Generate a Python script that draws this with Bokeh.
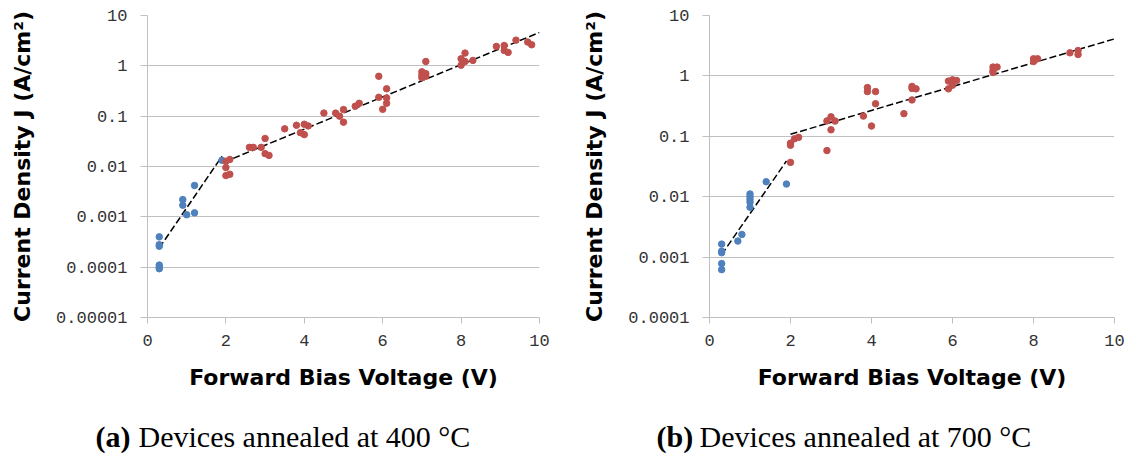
from bokeh.plotting import figure
from bokeh.models import FixedTicker, CustomJSTickFormatter, Range1d
from bokeh.core.properties import value
from bokeh.layouts import row, column
from bokeh.embed import file_html
from bokeh.resources import INLINE

# ---------------- data ----------------
x_ticks = [0, 2, 4, 6, 8, 10]
y_ticks_a = [1e-5, 1e-4, 1e-3, 1e-2, 1e-1, 1, 10]
y_labels_a = ["0.00001", "0.0001", "0.001", "0.01", "0.1", "1", "10"]
y_ticks_b = [1e-4, 1e-3, 1e-2, 1e-1, 1, 10]
y_labels_b = ["0.0001", "0.001", "0.01", "0.1", "1", "10"]

# (a) annealed at 400 C
a_blue_v = [0.3, 0.3, 0.3, 0.3, 0.3, 0.3, 0.9, 0.9, 1.0, 1.2, 1.2, 1.9]
a_blue_j = [0.0004, 0.00028, 0.00026, 0.00011, 0.0001, 0.000093,
            0.0022, 0.0017, 0.0011, 0.0042, 0.0012, 0.0133]
a_red_v = [2.0, 2.1, 2.0, 2.0, 2.1, 2.6, 2.7, 2.9, 3.0, 3.0, 3.1,
           3.5, 3.8, 3.9, 4.0, 4.0, 4.1, 4.5, 4.8, 4.9, 5.0, 5.0, 5.3, 5.4,
           5.9, 5.9, 6.0, 6.1, 6.1, 6.1, 7.0, 7.0, 7.1, 7.1, 7.1, 7.0,
           8.0, 8.0, 8.1, 8.1, 8.3, 8.9, 9.1, 9.1, 9.2, 9.4, 9.7, 9.8]
a_red_j = [0.0127, 0.0138, 0.0095, 0.0066, 0.0070, 0.024, 0.024, 0.024, 0.036, 0.018, 0.0166,
           0.056, 0.066, 0.047, 0.043, 0.069, 0.064, 0.115, 0.115, 0.10, 0.135, 0.076, 0.158, 0.18,
           0.62, 0.237, 0.137, 0.35, 0.23, 0.18, 0.76, 0.58, 1.22, 0.70, 0.62, 0.66,
           1.38, 1.03, 1.79, 1.22, 1.28, 2.43, 2.54, 2.02, 1.85, 3.24, 2.96, 2.62]
a_fit1_v = [0.3, 1.9]
a_fit1_j = [0.00024, 0.016]
a_fit2_v = [1.95, 10.0]
a_fit2_j = [0.0122, 4.6]

# (b) annealed at 700 C
b_blue_v = [0.3, 0.3, 0.3, 0.3, 0.3, 0.7, 0.8, 1.0, 1.0, 1.0, 1.0, 1.0, 1.4, 1.9]
b_blue_j = [0.00164, 0.00125, 0.00118, 0.00078, 0.00062, 0.00184, 0.00237,
            0.0111, 0.0100, 0.0090, 0.0081, 0.0067, 0.0177, 0.0162]
b_red_v = [2.0, 2.0, 2.0, 2.1, 2.2, 2.9, 2.9, 3.0, 3.0, 3.1,
           3.8, 3.9, 3.9, 4.0, 4.1, 4.1, 4.8, 5.0, 5.0, 5.0, 5.1,
           5.9, 5.9, 6.0, 6.0, 6.1, 7.0, 7.0, 7.0, 7.1, 8.0, 8.0, 8.1, 8.9, 9.1, 9.1]
b_red_j = [0.037, 0.077, 0.071, 0.091, 0.096, 0.058, 0.18, 0.21, 0.128, 0.179,
           0.216, 0.64, 0.55, 0.148, 0.55, 0.346, 0.237, 0.67, 0.62, 0.40, 0.61,
           0.82, 0.61, 0.86, 0.70, 0.84, 1.40, 1.23, 1.14, 1.40, 1.92, 1.73, 1.92, 2.41, 2.63, 2.26]
b_fit1_v = [0.3, 1.9]
b_fit1_j = [0.0011, 0.039]
b_fit2_v = [2.0, 10.0]
b_fit2_j = [0.108, 4.1]

x_title = "Forward Bias Voltage (V)"
y_title = "Current Density J (A/cm\u00b2)"
cap_tags = ["(a)", "(b)"]
cap_texts = ["Devices annealed at 400 \u00b0C", "Devices annealed at 700 \u00b0C"]

BLUE = "#4f81bd"
RED = "#c0504d"
GRID = "#c0c0c0"
TICKFONT = "Liberation Mono"
TITLEFONT = "DejaVu Sans"
CAPFONT = "Liberation Serif"


def panel(width, ml, mr, ymin, yticks, ylabels, blue_v, blue_j, red_v, red_j,
          f1v, f1j, f2v, f2j):
    p = figure(width=width, height=406, y_axis_type="log",
               x_range=Range1d(0, 10), y_range=Range1d(ymin, 10),
               output_backend="svg", toolbar_location=None,
               min_border_left=ml, min_border_right=mr,
               min_border_top=15, min_border_bottom=89)
    p.outline_line_color = None
    p.background_fill_color = "white"
    p.border_fill_color = "white"
    p.xgrid.visible = False
    p.ygrid.grid_line_color = GRID
    p.ygrid.grid_line_width = 1

    p.xaxis.ticker = FixedTicker(ticks=x_ticks)
    p.yaxis.ticker = FixedTicker(ticks=yticks)
    p.yaxis.formatter = CustomJSTickFormatter(args=dict(vals=yticks, labs=ylabels), code="""
        let best = 0;
        for (let i = 0; i < vals.length; i++) {
            if (Math.abs(Math.log10(vals[i]) - Math.log10(tick)) <
                Math.abs(Math.log10(vals[best]) - Math.log10(tick))) { best = i; }
        }
        return labs[best];
    """)
    for ax in (p.xaxis[0], p.yaxis[0]):
        ax.axis_line_color = GRID
        ax.major_tick_line_color = GRID
        ax.minor_tick_line_color = None
        ax.major_tick_in = 0
        ax.major_label_text_font = TICKFONT
        ax.major_label_text_font_size = "17px"
        ax.major_label_text_color = "#333333"
        ax.axis_label_text_font = TITLEFONT
        ax.axis_label_text_font_style = "bold"
        ax.axis_label_text_font_size = "22px"
        ax.axis_label_text_color = "black"
    p.xaxis.major_tick_out = 6
    p.yaxis.major_tick_out = 7
    p.xaxis.major_label_standoff = 11
    p.yaxis.major_label_standoff = 13
    p.xaxis.axis_label = x_title
    p.yaxis.axis_label = y_title
    p.xaxis.axis_label_standoff = 16
    p.yaxis.axis_label_standoff = 18

    p.line(f1v, f1j, line_color="black", line_width=1.5, line_dash="7 3")
    p.line(f2v, f2j, line_color="black", line_width=1.5, line_dash="7 3")
    p.scatter(blue_v, blue_j, size=6.5, fill_color=BLUE, line_color=BLUE)
    p.scatter(red_v, red_j, size=6.5, fill_color=RED, line_color=RED)
    return p


pa = panel(565, 147, 26, 1e-5, y_ticks_a, y_labels_a, a_blue_v, a_blue_j, a_red_v, a_red_j,
           a_fit1_v, a_fit1_j, a_fit2_v, a_fit2_j)
pb = panel(566, 144, 17, 1e-4, y_ticks_b, y_labels_b, b_blue_v, b_blue_j, b_red_v, b_red_j,
           b_fit1_v, b_fit1_j, b_fit2_v, b_fit2_j)

# caption strip (pixel-space coordinates)
cap = figure(width=1131, height=60, x_range=Range1d(0, 1131), y_range=Range1d(0, 60),
             output_backend="svg", toolbar_location=None, min_border=0)
cap.axis.visible = False
cap.grid.visible = False
cap.outline_line_color = None
cap_tag_x = [95, 656]
cap_text_x = [138, 699]
cap_y = [30, 30]
cap.text(x=cap_tag_x, y=cap_y, text=cap_tags, text_font=value(CAPFONT),
         text_font_style="bold", text_font_size="30px", text_baseline="middle",
         text_align="left", text_color="black")
cap.text(x=cap_text_x, y=cap_y, text=cap_texts, text_font=value(CAPFONT),
         text_font_size="30px", text_baseline="middle", text_align="left",
         text_color="black")

layout = column(row(pa, pb, spacing=0), cap, spacing=0)
open("out.html", "w").write(file_html(layout, INLINE))
